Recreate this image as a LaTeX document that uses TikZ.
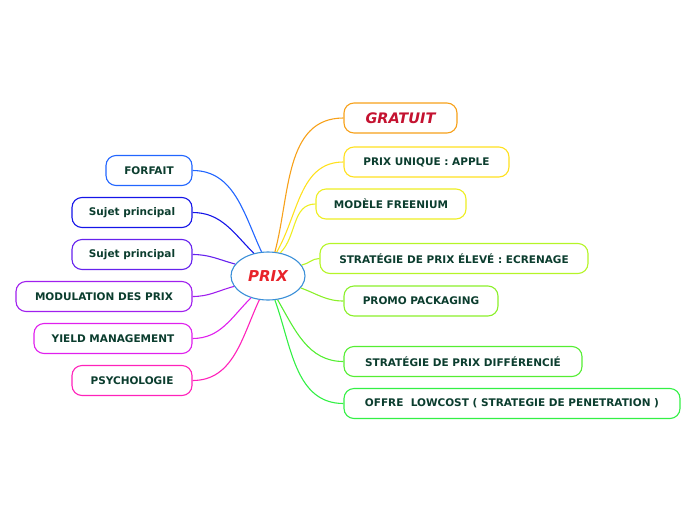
\documentclass[tikz,border=0pt]{standalone}
\usepackage{fontspec}
\setmainfont{DejaVu Sans}
\usetikzlibrary{shapes.geometric}
\definecolor{txt}{HTML}{0B3D2E}
\definecolor{cgrat}{HTML}{F7A11A}\definecolor{cuniq}{HTML}{FFE11F}\definecolor{cfree}{HTML}{EEEE22}\definecolor{celev}{HTML}{B5F527}
\definecolor{cpromo}{HTML}{8BF02A}\definecolor{cdiff}{HTML}{55EE33}\definecolor{clow}{HTML}{33F045}
\definecolor{cforf}{HTML}{2266FF}\definecolor{csuja}{HTML}{1515E8}\definecolor{csujb}{HTML}{6622EE}\definecolor{cmod}{HTML}{A020EE}
\definecolor{cyield}{HTML}{E020EE}\definecolor{cpsy}{HTML}{FF22BB}\definecolor{cprix}{HTML}{3A8FD8}\definecolor{tprix}{HTML}{E8232A}\definecolor{tgrat}{HTML}{C41230}
\tikzset{branch/.style={draw=#1,rounded corners=10,line width=1.1,fill=white,minimum height=30,font=\bfseries\fontsize{10.5}{12}\selectfont,text=txt},link/.style={draw=#1,line width=1.1}}

\begin{document}
\begin{tikzpicture}[x=1pt,y=1pt]
\useasboundingbox(0,0)rectangle(696,-520);
\node[ellipse,draw=cprix,line width=1.1,fill=white,minimum width=74,minimum height=48,text=tprix,font=\bfseries\itshape\fontsize{15}{17}\selectfont](prix)at(268,-276){PRIX};
\begin{scope}[every node/.style={}]
\node[branch=cgrat,minimum width=113,text=tgrat,font=\bfseries\itshape\fontsize{14.5}{16}\selectfont](grat)at(400.5,-118){GRATUIT};
\node[branch=cuniq,minimum width=165](uniq)at(426.5,-162){PRIX UNIQUE : APPLE};
\node[branch=cfree,minimum width=150](free)at(391,-204){MODÈLE FREENIUM};
\node[branch=celev,minimum width=268](elev)at(454,-258.5){STRATÉGIE DE PRIX ÉLEVÉ : ECRENAGE};
\node[branch=cpromo,minimum width=154](promo)at(421,-301){PROMO PACKAGING};
\node[branch=cdiff,minimum width=238](diff)at(463,-361.5){STRATÉGIE DE PRIX DIFFÉRENCIÉ};
\node[branch=clow,minimum width=336](low)at(512,-403.5){OFFRE\ \ LOWCOST ( STRATEGIE DE PENETRATION )};
\node[branch=cforf,minimum width=86](forf)at(149,-170.5){FORFAIT};
\node[branch=csuja,minimum width=120](suja)at(132,-212.5){Sujet principal};
\node[branch=csujb,minimum width=120](sujb)at(132,-254.5){Sujet principal};
\node[branch=cmod,minimum width=176](mod)at(104,-296.5){MODULATION DES PRIX};
\node[branch=cyield,minimum width=158](yield)at(113,-338.5){YIELD MANAGEMENT};
\node[branch=cpsy,minimum width=120](psy)at(132,-380.5){PSYCHOLOGIE};
\end{scope}
% right side
\draw[link=cgrat](prix.74)to[out=75,in=180](grat.west);\draw[link=cuniq](prix.70)to[out=60,in=180](uniq.west);\draw[link=cfree](prix.62)to[out=45,in=180](free.west);
\draw[link=celev](prix.18)to[out=10,in=180](elev.west);\draw[link=cpromo](prix.-20)to[out=-20,in=180](promo.west);
\draw[link=cdiff](prix.-68)to[out=-60,in=180](diff.west);\draw[link=clow](prix.-74)to[out=-70,in=180](low.west);
% left side
\draw[link=cforf](forf.east)to[out=0,in=115](prix.105);\draw[link=csuja](suja.east)to[out=0,in=135](prix.122);\draw[link=csujb](sujb.east)to[out=0,in=165](prix.160);
\draw[link=cmod](mod.east)to[out=0,in=195](prix.197);\draw[link=cyield](yield.east)to[out=0,in=225](prix.232);\draw[link=cpsy](psy.east)to[out=0,in=245](prix.250);
\end{tikzpicture}
\end{document}
